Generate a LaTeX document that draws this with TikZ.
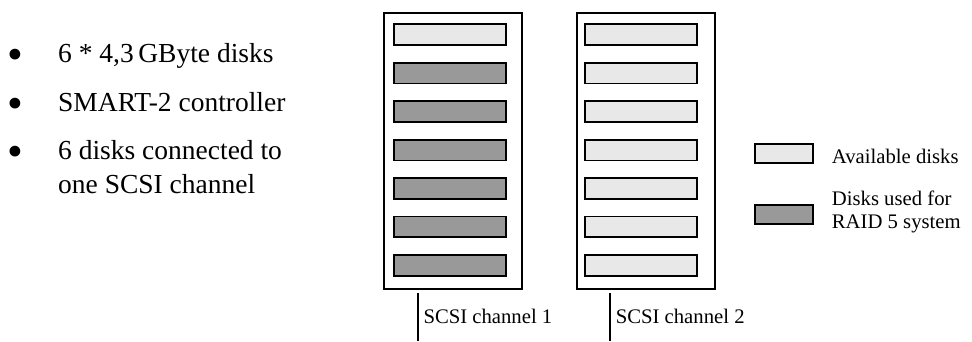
\documentclass[tikz,border=0pt]{standalone}
\usepackage{fontspec}
\setmainfont{Liberation Serif}
\usepackage{tikz}
\usetikzlibrary{positioning,calc}
\definecolor{freegray}{gray}{0.91}
\definecolor{raidgray}{gray}{0.6}
\tikzset{
  cabinet/.style={rectangle, draw=black, line width=1.8pt, minimum width=138pt,
                  minimum height=276pt, inner sep=0pt},
  disk/.style={rectangle, draw=black, line width=1.8pt, minimum width=112pt,
               minimum height=20.8pt, inner sep=0pt},
  freedisk/.style={disk, fill=freegray},
  raiddisk/.style={disk, fill=raidgray},
  legendbox/.style={disk, minimum width=57.8pt, minimum height=18.8pt},
  bigtext/.style={anchor=base west, inner sep=0pt, align=left,
                  font=\fontsize{27.5}{34}\selectfont},
  bulletmark/.style={anchor=base, inner sep=0pt, font=\fontsize{45}{45}\selectfont},
  smalltext/.style={anchor=base west, inner sep=0pt, align=left,
                    font=\fontsize{20.7}{23}\selectfont},
  channel/.style={draw, line width=1.8pt}
}
\begin{document}
\begin{tikzpicture}[x=1pt,y=-1pt]
\useasboundingbox (0,0) rectangle (972,341);
% left list
\node[bulletmark] (bul1) at (15,69) {•};
\node[bulletmark] (bul2) at (15,118) {•};
\node[bulletmark] (bul3) at (15,166) {•};
\node[bigtext] (item1) at (58,62) {6 * 4,3\,GByte disks};
\node[bigtext] (item2) at (58,111) {SMART-2 controller};
\node[bigtext] (item3) at (58,193) {6 disks connected to\\one SCSI channel};
% the two cabinets
\node[cabinet] (cab1) at (453.3,150.9) {};
\node[cabinet] (cab2) at (645.7,150.9) {};
\foreach \i/\kind in {1/freedisk,2/raiddisk,3/raiddisk,4/raiddisk,5/raiddisk,6/raiddisk,7/raiddisk}{
  \node[style=\kind] (da\i) at (449.7,{34.65+(\i-1)*38.45}) {};
  \node[freedisk] (db\i) at (641.2,{34.65+(\i-1)*38.45}) {};
}
% scsi channels
\coordinate (ch1top) at (417.7,293);
\coordinate (ch1end) at (417.7,341);
\coordinate (ch2top) at (610,293);
\coordinate (ch2end) at (610,341);
\draw[channel] (ch1top) -- (ch1end);
\draw[channel] (ch2top) -- (ch2end);
\node[smalltext] (ch1lbl) at (423.3,323) {SCSI channel 1};
\node[smalltext] (ch2lbl) at (615.6,323) {SCSI channel 2};
% legend
\node[legendbox, fill=freegray] (lgfree) at (784.2,153.7) {};
\node[smalltext] (lgfreetxt) at (831.7,163) {Available disks};
\node[legendbox, fill=raidgray] (lgraid) at (784.2,214.5) {};
\node[smalltext] (lgraidtxt) at (831.7,228) {Disks used for\\RAID 5 system};
\end{tikzpicture}
\end{document}
